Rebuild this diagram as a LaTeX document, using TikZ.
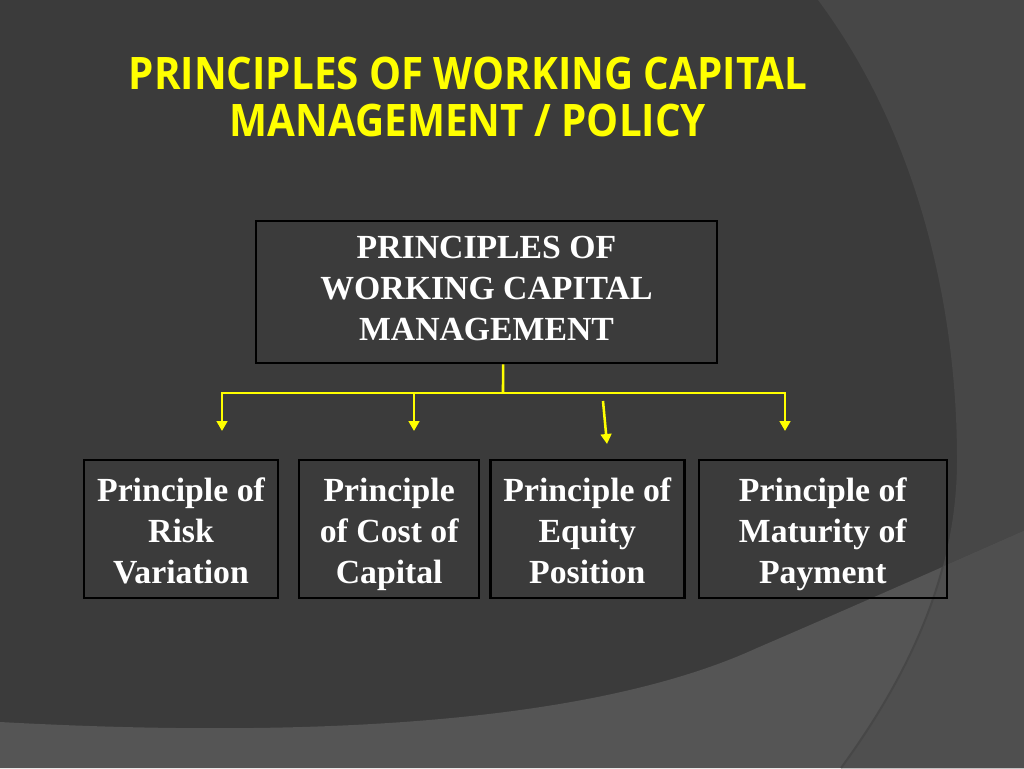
\documentclass[tikz,border=0pt]{standalone}
\usepackage{fontspec}
\setmainfont{Liberation Serif}
\newfontfamily\titlefont[FakeStretch=0.9]{Open Sans}
\usetikzlibrary{arrows.meta,positioning}

\definecolor{slide}{HTML}{3B3B3B}
\definecolor{sidegray}{HTML}{474747}
\definecolor{floorgray}{HTML}{555555}
\definecolor{floorside}{HTML}{4F4F4F}
\definecolor{rimgray}{HTML}{474747}
\definecolor{linkyellow}{HTML}{FFFF00}

\newcommand\sidearc{(818,0) .. controls (915,130) and (957,300) .. (957,460) .. controls (957,560) and (920,660) .. (841,768) -- (1024,768) -- (1024,0) -- cycle}
\newcommand\floorsweep{(0,722) .. controls (330,740) and (600,720) .. (757,648) .. controls (850,608) and (940,568) .. (1024,531) -- (1024,768) -- (0,768) -- cycle}

\begin{document}
\begin{tikzpicture}[x=0.75pt,y=-0.75pt,>={Triangle[width=8pt,length=7.5pt]},semithick]
\tikzstyle{principle}=[draw=black,line width=1.9pt,text=white,font=\bfseries\fontsize{25.3}{30.75}\selectfont,align=center,minimum height=103.5pt,inner sep=0pt,execute at end node={\rule[-6pt]{0pt}{6pt}}]
\tikzstyle{branch}=[principle,execute at begin node={\rule{0pt}{87.2pt}}]
\tikzstyle{link}=[draw=linkyellow,line width=1.9pt]
\tikzstyle{heading}=[text=linkyellow,font=\titlefont\bfseries\fontsize{33.6}{35.25}\selectfont,align=center]
% background
\fill[slide] (0,0) rectangle (1024,768);
\fill[sidegray] \sidearc;
\fill[floorgray] \floorsweep;
\begin{scope}
\clip \floorsweep;
\fill[floorside] \sidearc;
\draw[rimgray,line width=1.5pt] (957,460) .. controls (957,560) and (920,660) .. (841,768);
\end{scope}
% title
\node[heading] (title) at (468,97) {PRINCIPLES OF WORKING CAPITAL\\MANAGEMENT / POLICY};
% boxes
\node[principle,minimum width=345.75pt,minimum height=106.5pt] (wcm) at (486.5,292) {PRINCIPLES OF\\WORKING CAPITAL\\MANAGEMENT};
\node[branch,minimum width=145.5pt] (risk) at (181,529) {Principle of\\Risk\\Variation};
\node[branch,minimum width=135pt,right=14pt of risk] (cost) {Principle\\of Cost of\\Capital};
\node[branch,minimum width=145.5pt,right=6.4pt of cost] (equity) {Principle of\\Equity\\Position};
\node[branch,minimum width=186pt,right=9pt of equity] (maturity) {Principle of\\Maturity of\\Payment};
% connectors
\coordinate (split) at (503,393);
\coordinate (d1) at (222,431);
\coordinate (d2) at (414,431);
\coordinate (d3top) at (603,401);
\coordinate (d3) at (607,444);
\coordinate (d4) at (785,431);
\draw[link] ([xshift=12.4pt]wcm.south) -- (split);
\draw[link,->] (split) -| (d1);
\draw[link,->] (split) -| (d2);
\draw[link,->] (split) -| (d4);
\draw[link,->] (d3top) -- (d3);
\end{tikzpicture}
\end{document}
